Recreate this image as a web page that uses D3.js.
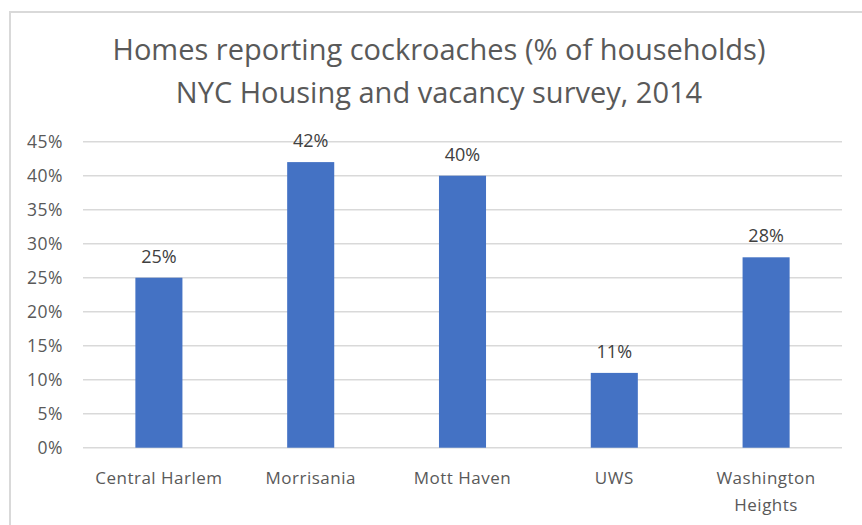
<!DOCTYPE html>
<html>
<head>
<meta charset="utf-8">
<script src="https://cdn.jsdelivr.net/npm/d3@7"></script>
<style>
  html, body { margin: 0; padding: 0; background: #fff; }
  svg { display: block; }
  text { font-family: "Open Sans", "Noto Sans", sans-serif; }
</style>
</head>
<body>
<svg id="chart" width="862" height="525"></svg>
<script>
const titleLines = ["Homes reporting cockroaches (% of households)", "NYC Housing and vacancy survey, 2014"];
const categories = ["Central Harlem", "Morrisania", "Mott Haven", "UWS", "Washington Heights"];
const values = [25, 42, 40, 11, 28];
const yTicks = [0, 5, 10, 15, 20, 25, 30, 35, 40, 45];

const svg = d3.select("#chart");
const W = 862, H = 525;

// chart frame
svg.append("rect")
  .attr("x", 10).attr("y", 12).attr("width", W + 10).attr("height", H + 10)
  .attr("fill", "#fff").attr("stroke", "#d9d9d9").attr("stroke-width", 2);

const x = d3.scaleBand().domain(categories).range([83, 842]).paddingInner(0.69).paddingOuter(0.345);
const y = d3.scaleLinear().domain([0, 45]).range([447.7, 141.7]);

// gridlines
svg.append("g").selectAll("line").data(yTicks).join("line")
  .attr("x1", 83).attr("x2", 842)
  .attr("y1", d => y(d)).attr("y2", d => y(d))
  .attr("stroke", "#d9d9d9").attr("stroke-width", 1.5);

// y axis labels
const yAxis = d3.axisLeft(y).tickValues(yTicks).tickFormat(d => d + "%").tickSize(0).tickPadding(0);
const gy = svg.append("g").attr("transform", "translate(63,0)").call(yAxis);
gy.select(".domain").remove();
gy.selectAll("text").attr("fill", "#595959").style("font-size", "17.5px")
  .style("letter-spacing", "0.5px")
  .style("font-family", "'Open Sans', sans-serif").attr("dy", "0.35em");

// bars
svg.append("g").selectAll("rect").data(values).join("rect")
  .attr("x", (d, i) => x(categories[i]))
  .attr("width", x.bandwidth())
  .attr("y", d => y(d))
  .attr("height", d => y(0) - y(d))
  .attr("fill", "#4472c4");

// data labels
svg.append("g").selectAll("text").data(values).join("text")
  .attr("x", (d, i) => x(categories[i]) + x.bandwidth() / 2)
  .attr("y", d => y(d) - 15)
  .attr("text-anchor", "middle")
  .attr("fill", "#404040")
  .style("font-size", "18px")
  .text(d => d + "%");

// category labels
const xAxis = d3.axisBottom(x).tickSize(0).tickPadding(0);
const gx = svg.append("g").attr("transform", "translate(0,478)").call(xAxis);
gx.select(".domain").remove();
gx.selectAll("text").remove();
gx.selectAll(".tick").each(function(d) {
  const words = d === "Washington Heights" ? ["Washington", "Heights"] : [d];
  const t = d3.select(this).append("text")
    .attr("text-anchor", "middle").attr("fill", "#595959")
    .style("font-size", "17px").style("letter-spacing", "0.5px")
    .style("font-family", "'Open Sans', sans-serif");
  words.forEach((w, i) => {
    t.append("tspan").attr("x", 0).attr("y", i * 27).attr("dy", "0.35em").text(w);
  });
});

// title
svg.append("g").selectAll("text").data(titleLines).join("text")
  .attr("x", 439).attr("y", (d, i) => 50 + i * 43)
  .attr("dy", "0.35em")
  .attr("text-anchor", "middle")
  .attr("fill", "#595959")
  .style("font-size", "29px")
  .text(d => d);
</script>
</body>
</html>
